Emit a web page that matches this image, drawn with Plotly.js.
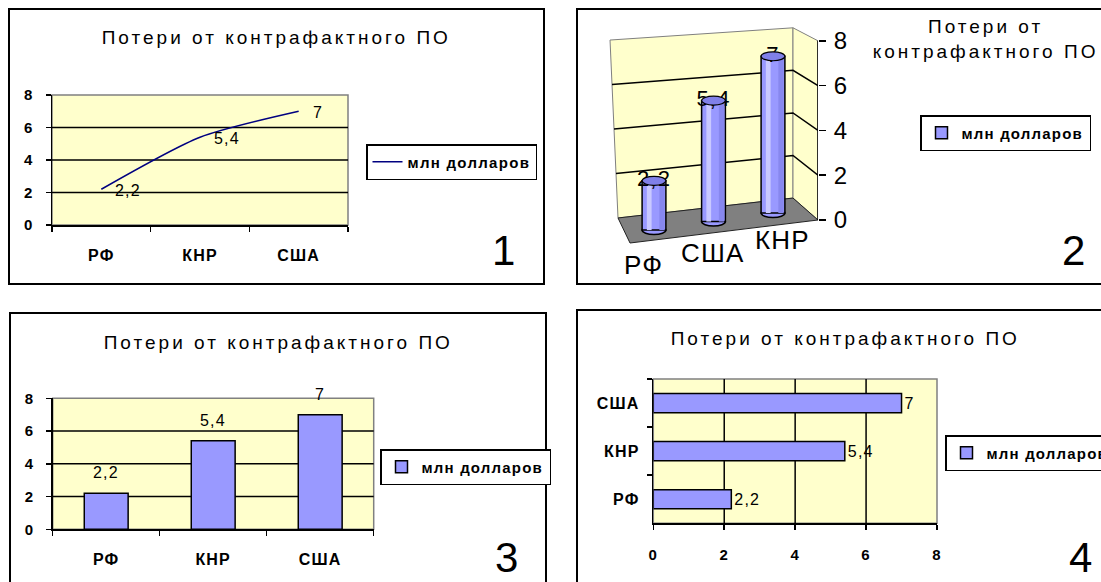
<!DOCTYPE html>
<html><head><meta charset="utf-8">
<script src="https://cdn.plot.ly/plotly-3.0.1.min.js"></script>
<style>
html,body{margin:0;padding:0;background:#fff;}
#chart{width:1101px;height:582px;}
text{letter-spacing:1.2px;}
.legendtext{letter-spacing:1.3px;}
.annotation[data-index="0"] text,.annotation[data-index="1"] text,.annotation[data-index="2"] text,.annotation[data-index="3"] text{letter-spacing:3px;}
</style></head><body><div id="chart"></div>
<script>
// ---- data ----
const chartTitle = 'Потери от контрафактного ПО';
const chartTitle2 = 'Потери от<br>контрафактного ПО';
const seriesName = 'млн долларов';
const categories = ['РФ', 'КНР', 'США'];
const losses = [2.2, 5.4, 7];
const categories3d = ['РФ', 'США', 'КНР'];
const losses3d = [2.2, 5.4, 7];
const yTicks = [0, 2, 4, 6, 8];
const panelNumbers = ['1', '2', '3', '4'];

// ---- helpers ----
const W = 1101, H = 582;
const px = x => x / W;
const py = y => 1 - y / H;
const FONT = 'Liberation Sans, Arial, sans-serif';
const fmt = v => String(v).replace('.', ',');
const BAR = '#9999ff', BG = '#ffffcc';

// pseudo-3D geometry for panel 2 (pixel -> axis units)
const P2 = {cx: 654, step: 59.5, zeroY: 220, unit: 22.4};
const X2 = p => (p - P2.cx) / P2.step;
const Y2 = p => (P2.zeroY - p) / P2.unit;
const floorBase = i => -0.45 + 0.38 * i;
const leftX = v => X2(618 - v);
const leftY = v => 0.09 + 0.993 * v;
const cornerX = X2(793), cornerY = v => 0.98 + 0.95 * v;
const axisX = X2(818);
const frontLeft = [X2(630), Y2(243)];
const path = (pts, close) => 'M ' + pts.map(p => p[0].toFixed(3) + ',' + p[1].toFixed(3)).join(' L ') + (close ? ' Z' : '');

const idx3d = categories3d.map((c, i) => i);
const bases3d = idx3d.map(floorBase);
const tops3d = losses3d.map((v, i) => v + bases3d[i]);

// ---- traces ----
const labelFont = {family: FONT, size: 16, color: '#000'};
const data = [
  {type: 'scatter', x: categories, y: losses, xaxis: 'x', yaxis: 'y', mode: 'lines',
   line: {color: '#000080', width: 1.5, shape: 'spline', smoothing: 0.7},
   name: seriesName, legend: 'legend', hoverinfo: 'skip'},
  {type: 'bar', x: idx3d, y: losses3d, base: bases3d, width: 0.4, xaxis: 'x2', yaxis: 'y2',
   marker: {color: BAR, line: {color: '#000', width: 1.5}}, name: seriesName, legend: 'legend2', hoverinfo: 'skip'},
  {type: 'bar', x: idx3d, y: losses3d, base: bases3d, width: 0.08, offset: -0.12, xaxis: 'x2', yaxis: 'y2',
   marker: {color: '#c9c9ff', line: {width: 0}}, showlegend: false, hoverinfo: 'skip'},
  {type: 'bar', x: idx3d, y: losses3d, base: bases3d, width: 0.09, offset: 0.09, xaxis: 'x2', yaxis: 'y2',
   marker: {color: '#8787ee', line: {width: 0}}, showlegend: false, hoverinfo: 'skip'},
  {type: 'scatter', x: idx3d, y: tops3d, xaxis: 'x2', yaxis: 'y2', mode: 'text',
   text: losses3d.map(fmt), textposition: 'middle center', cliponaxis: false,
   textfont: {family: FONT, size: 22, color: '#000'}, showlegend: false, hoverinfo: 'skip'},
  {type: 'bar', x: categories, y: losses, width: 0.41, xaxis: 'x3', yaxis: 'y3',
   marker: {color: BAR, line: {color: '#000', width: 1.5}}, name: seriesName, legend: 'legend3', hoverinfo: 'skip'},
  {type: 'bar', orientation: 'h', x: losses, y: categories, width: 0.4, xaxis: 'x4', yaxis: 'y4',
   marker: {color: BAR, line: {color: '#000', width: 1.5}}, name: seriesName, legend: 'legend4',
   text: losses.map(fmt), textposition: 'outside', cliponaxis: false,
   textfont: labelFont, hoverinfo: 'skip'}
];

// ---- axes ----
const tickFont = {family: FONT, size: 15, weight: 'bold', color: '#000'};
const catFont = {family: FONT, size: 16, weight: 'bold', color: '#000'};
function catAxis(d, anchor, extra) {
  return Object.assign({domain: d, anchor: anchor, type: 'category', range: [-0.5, categories.length - 0.5],
    tickson: 'boundaries', ticks: 'outside', ticklen: 5, tickcolor: '#000', tickwidth: 1.5,
    showline: true, linecolor: '#000', linewidth: 1.5,
    showgrid: false, zeroline: false, tickfont: catFont, fixedrange: true}, extra || {});
}
function valAxis(d, anchor, extra) {
  return Object.assign({domain: d, anchor: anchor, range: [0, 8], tickvals: yTicks, ticktext: yTicks.map(String),
    ticks: 'outside', ticklen: 5, tickcolor: '#000', tickwidth: 1.5, showline: true, linecolor: '#000', linewidth: 1.5,
    showgrid: false, zeroline: false, tickfont: tickFont, fixedrange: true}, extra || {});
}

// ---- shapes ----
const shapes = [];
const border = (x0, y0, x1, y1) => shapes.push({type: 'rect', xref: 'paper', yref: 'paper',
  x0: px(x0), x1: px(x1), y0: py(y1), y1: py(y0), line: {color: '#000', width: 2}, layer: 'above'});
border(9, 9, 544, 284);
border(577, 9, 1120, 284);
border(10, 313, 546, 600);
border(577, 310, 1120, 600);
['x', 'x3', 'x4'].forEach((ax, k) => {
  const ya = ['y', 'y3', 'y4'][k];
  shapes.push({type: 'rect', xref: ax + ' domain', yref: ya + ' domain', x0: 0, x1: 1, y0: 0, y1: 1,
    fillcolor: BG, line: {color: '#808080', width: 1.5}, layer: 'below'});
});
// inner gridlines (black), the outer frame stays grey
const innerTicks = yTicks.filter(v => v > 0 && v < 8);
['y', 'y3'].forEach((ya, k) => innerTicks.forEach(v => shapes.push({type: 'line', layer: 'below',
  xref: ['x', 'x3'][k] + ' domain', yref: ya, x0: 0, x1: 1, y0: v, y1: v, line: {color: '#000', width: 1.5}})));
innerTicks.forEach(v => shapes.push({type: 'line', layer: 'below', xref: 'x4', yref: 'y4 domain',
  x0: v, x1: v, y0: 0, y1: 1, line: {color: '#000', width: 1.5}}));
// panel 2 walls and floor
const wallLine = {color: '#808080', width: 1};
shapes.push({type: 'path', xref: 'x2', yref: 'y2', layer: 'below', fillcolor: BG, line: wallLine,
  path: path([[leftX(8), leftY(8)], [cornerX, cornerY(8)], [cornerX, cornerY(0)], [leftX(0), leftY(0)]], true)});
shapes.push({type: 'path', xref: 'x2', yref: 'y2', layer: 'below', fillcolor: BG, line: wallLine,
  path: path([[cornerX, cornerY(8)], [axisX, 8], [axisX, 0], [cornerX, cornerY(0)]], true)});
shapes.push({type: 'path', xref: 'x2', yref: 'y2', layer: 'below', fillcolor: '#808080', line: {color: '#222', width: 1},
  path: path([[leftX(0), leftY(0)], [cornerX, cornerY(0)], [axisX, 0], frontLeft], true)});
innerTicks.forEach(v => shapes.push({type: 'path', xref: 'x2', yref: 'y2', layer: 'below',
  line: {color: '#000', width: 1.5}, path: path([[leftX(v), leftY(v)], [cornerX, cornerY(v)], [axisX, v]], false)}));
shapes.push({type: 'line', xref: 'x2', yref: 'y2', x0: axisX, x1: axisX, y0: 0, y1: 8, line: {color: '#000', width: 1.5}, layer: 'above'});
idx3d.forEach(i => {
  shapes.push({type: 'circle', xref: 'x2', yref: 'y2', layer: 'below', x0: i - 0.2, x1: i + 0.2,
    y0: bases3d[i] - 0.2, y1: bases3d[i] + 0.2, fillcolor: BAR, line: {color: '#000', width: 1.5}});
  shapes.push({type: 'circle', xref: 'x2', yref: 'y2', layer: 'above', x0: i - 0.2, x1: i + 0.2,
    y0: tops3d[i] - 0.2, y1: tops3d[i] + 0.2, fillcolor: '#8080e8', line: {color: '#000', width: 1.2}});
});

// ---- annotations ----
const titleFont = {family: FONT, size: 19, color: '#000'};
const numFont = {family: FONT, size: 42, color: '#000'};
const ann = o => Object.assign({showarrow: false, xanchor: 'center', yanchor: 'middle'}, o);
const annotations = [
  ann({xref: 'paper', yref: 'paper', x: px(276), y: py(37), text: chartTitle, font: titleFont}),
  ann({xref: 'paper', yref: 'paper', x: px(985), y: py(39), text: chartTitle2, font: titleFont}),
  ann({xref: 'paper', yref: 'paper', x: px(278), y: py(342), text: chartTitle, font: titleFont}),
  ann({xref: 'paper', yref: 'paper', x: px(845), y: py(338), text: chartTitle, font: titleFont})
];
const numPos = [[504, 250], [1074, 250], [507, 557], [1081, 557]];
panelNumbers.forEach((t, k) => annotations.push(ann({xref: 'paper', yref: 'paper', x: px(numPos[k][0]), y: py(numPos[k][1]),
  text: t, font: numFont})));
// panel 1 point labels
categories.forEach((c, i) => annotations.push(ann({xref: 'x', yref: 'y', x: c, y: losses[i], text: fmt(losses[i]),
  xanchor: 'left', xshift: 12, yshift: -1, font: labelFont})));
// panel 3 bar labels
categories.forEach((c, i) => annotations.push(ann({xref: 'x3', yref: 'y3', x: c, y: losses[i], text: fmt(losses[i]),
  yanchor: 'bottom', yshift: 10, font: labelFont})));
// panel 2 category labels along the floor's front edge
categories3d.forEach((c, i) => annotations.push(ann({xref: 'x2', yref: 'y2', x: i, y: bases3d[i],
  xshift: (i - 1) * 10 - 1, yshift: -35 + 4 * i, text: c, font: {family: FONT, size: 26, color: '#000'}})));

// ---- legends ----
const legendBase = {xref: 'paper', yref: 'paper', xanchor: 'left', yanchor: 'top', bgcolor: '#fff',
  bordercolor: '#000', borderwidth: 1.5, font: {family: FONT, size: 15, weight: 'bold', color: '#000'}, itemwidth: 30};
const lg = (x, y) => Object.assign({}, legendBase, {x: px(x), y: py(y)});

const layout = {
  width: W, height: H, margin: {l: 0, r: 0, t: 0, b: 0, autoexpand: false},
  paper_bgcolor: '#fff', plot_bgcolor: 'rgba(0,0,0,0)',
  barmode: 'overlay', showlegend: true, separators: ', ',
  font: {family: FONT, color: '#000'},
  xaxis: catAxis([px(52), px(348)], 'y', {ticklabelstandoff: 15}),
  yaxis: valAxis([py(225), py(95)], 'x', {ticklabelstandoff: 9}),
  xaxis2: {domain: [px(600), px(818)], anchor: 'y2', range: [X2(600), X2(818)], showticklabels: false,
    showline: false, showgrid: false, zeroline: false, ticks: '', fixedrange: true},
  yaxis2: {domain: [py(250), py(20)], anchor: 'x2', side: 'right', range: [Y2(250), Y2(20)], tickvals: yTicks,
    ticks: 'outside', ticklen: 7, tickcolor: '#000', tickwidth: 1.5, showline: false, showgrid: false, zeroline: false,
    tickfont: {family: FONT, size: 24, color: '#000'}, ticklabelstandoff: 3, fixedrange: true},
  xaxis3: catAxis([px(52.7), px(373.7)], 'y3', {ticklabelstandoff: 15}),
  yaxis3: valAxis([py(529.3), py(398.3)], 'x3', {ticklabelstandoff: 9}),
  xaxis4: valAxis([px(653.3), px(937)], 'y4', {ticklabelstandoff: 12}),
  yaxis4: catAxis([py(523.3), py(379)], 'x4', {ticklabelstandoff: 9}),
  legend: lg(366, 144), legend2: lg(920, 115), legend3: lg(380, 449), legend4: lg(945, 435),
  shapes: shapes, annotations: annotations
};

Plotly.newPlot('chart', data, layout, {staticPlot: true, displayModeBar: false});
</script></body></html>
